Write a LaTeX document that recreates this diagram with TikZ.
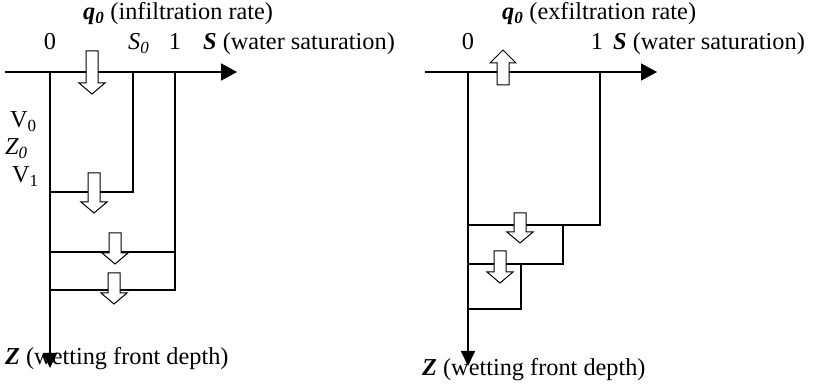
\documentclass[tikz,border=0pt]{standalone}
\usepackage{fontspec}
\setmainfont{Liberation Serif}
\usetikzlibrary{arrows.meta}
\newcommand\hollowdown[3]{%
  \draw[hollow] (#1-6,#2) -- (#1+6,#2) -- (#1+6,#3-11) -- (#1+13,#3-11) -- (#1,#3) -- (#1-13,#3-11) -- (#1-6,#3-11) -- cycle;}
\newcommand\hollowup[3]{%
  \draw[hollow] (#1-6,#2) -- (#1+6,#2) -- (#1+6,#3+13) -- (#1+13,#3+13) -- (#1,#3) -- (#1-13,#3+13) -- (#1-6,#3+13) -- cycle;}
\begin{document}
\begin{tikzpicture}[x=1pt,y=-1pt,
  lbl/.style={inner sep=0pt,font=\fontsize{24.3}{27}\selectfont},
  axis/.style={line width=1.6pt,-{Triangle[length=16pt,width=17pt]}},
  vaxis/.style={line width=1.8pt,-{Triangle[length=15pt,width=14pt]}},
  front/.style={line width=1.2pt},
  hollow/.style={draw,fill=white,line width=1pt}]
\useasboundingbox (0,0) rectangle (825,387);
% ---------------- left diagram ----------------
\node[lbl,anchor=base west] (qL) at (83,20) {\textbf{\textit{q\textsubscript{0}}} (infiltration rate)};
\node[lbl,anchor=base] (zeroL) at (50,50) {0};
\node[lbl,anchor=base west] (s0L) at (128,50) {\textit{S\textsubscript{0}}};
\node[lbl,anchor=base] (oneL) at (175,50) {1};
\node[lbl,anchor=base west] (sL) at (203,50) {\textbf{\textit{S}} (water saturation)};
\node[lbl,anchor=base west] (v0) at (10,128) {V\textsubscript{0}};
\node[lbl,anchor=base west] (z0) at (5,155) {\textit{Z\textsubscript{0}}};
\node[lbl,anchor=base west] (v1) at (12,183) {V\textsubscript{1}};
\node[lbl,anchor=base west] (zL) at (5,365) {\textbf{\textit{Z}} (wetting front depth)};
\coordinate (hL0) at (5,72);
\coordinate (hL1) at (237,72);
\coordinate (oL) at (50,72);
\coordinate (vL1) at (50,368);
\coordinate (a0) at (133,72);
\coordinate (a1) at (133,192);
\coordinate (b0) at (175,72);
\coordinate (b1) at (175,290);
\coordinate (c0) at (50,192);
\coordinate (d0) at (50,252);
\coordinate (d1) at (175,252);
\coordinate (e0) at (50,290);
\draw[front] (a0) -- (a1) -- (c0);
\draw[front] (b0) -- (b1) -- (e0);
\draw[front] (d0) -- (d1);
\draw[axis] (hL0) -- (hL1);
\draw[vaxis] (oL) -- (vL1);
\hollowdown{92}{51}{94}
\hollowdown{94}{173}{213}
\hollowdown{115}{233}{264}
\hollowdown{114}{273}{304}
% ---------------- right diagram ----------------
\node[lbl,anchor=base west] (qR) at (502,20) {\textbf{\textit{q\textsubscript{0}}} (exfiltration rate)};
\node[lbl,anchor=base] (zeroR) at (468,50) {0};
\node[lbl,anchor=base] (oneR) at (597,50) {1};
\node[lbl,anchor=base west] (sR) at (613,50) {\textbf{\textit{S}} (water saturation)};
\node[lbl,anchor=base west] (zR) at (422,376) {\textbf{\textit{Z}} (wetting front depth)};
\coordinate (hR0) at (425,72);
\coordinate (hR1) at (657,72);
\coordinate (oR) at (468,72);
\coordinate (vR1) at (468,366);
\coordinate (f0) at (600,72);
\coordinate (f1) at (600,225);
\coordinate (g0) at (468,225);
\coordinate (g1) at (563,225);
\coordinate (g2) at (563,264);
\coordinate (h0) at (468,264);
\coordinate (h1) at (521,264);
\coordinate (h2) at (521,309);
\coordinate (k0) at (468,309);
\draw[front] (f0) -- (f1) -- (g0);
\draw[front] (g1) -- (g2) -- (h0);
\draw[front] (h1) -- (h2) -- (k0);
\draw[axis] (hR0) -- (hR1);
\draw[vaxis] (oR) -- (vR1);
\hollowup{503}{85}{50}
\hollowdown{520}{213}{243}
\hollowdown{500}{251}{283}
\end{tikzpicture}
\end{document}
